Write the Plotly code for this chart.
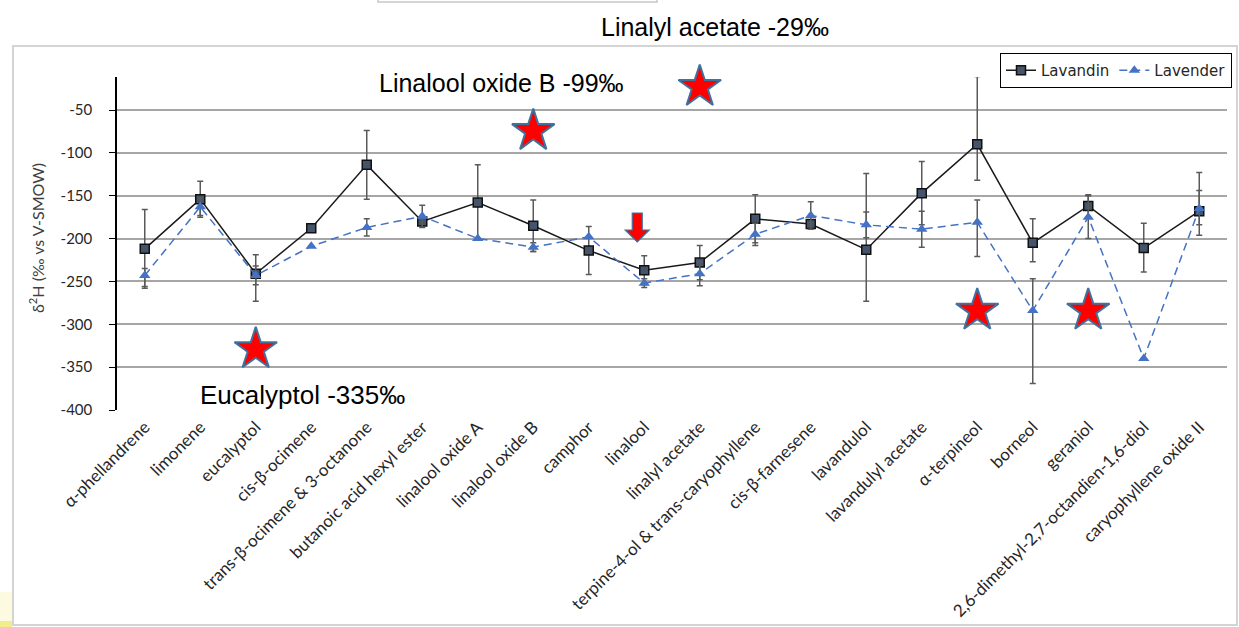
import plotly.graph_objects as go

# Compounds on the x axis
compounds = [
    "α-phellandrene", "limonene", "eucalyptol", "cis-β-ocimene",
    "trans-β-ocimene & 3-octanone", "butanoic acid hexyl ester",
    "linalool oxide A", "linalool oxide B", "camphor", "linalool",
    "linalyl acetate", "terpine-4-ol & trans-caryophyllene",
    "cis-β-farnesene", "lavandulol", "lavandulyl acetate", "α-terpineol",
    "borneol", "geraniol", "2,6-dimethyl-2,7-octandien-1,6-diol",
    "caryophyllene oxide II",
]

# δ2H values (‰ vs V-SMOW) with upper / lower error bar lengths
lavandin = [-212, -154, -241, -188, -114, -180, -158, -185, -214, -237,
            -228, -177, -183, -213, -147, -90, -205, -162, -211, -168]
lavandin_err_up = [46, 21, 22, None, 40, 5, 44, 30, 28, 17,
                   20, 28, 5, 89, 37, 79, 28, 13, 29, 24]
lavandin_err_down = [46, 21, 32, None, 40, 5, 44, 30, 28, 17,
                     20, 28, 5, 60, 37, 42, 22, 13, 28, 28]

lavender = [-243, -163, -243, -209, -187, -174, -200, -210, -198, -252,
            -241, -195, -173, -184, -189, -181, -284, -175, -340, -165]
lavender_err_up = [8, 10, 11, None, 10, 13, None, 5, None, 5,
                   14, 13, 16, 15, 21, 26, 37, 25, None, 42]
lavender_err_down = [13, 10, 11, None, 10, 13, None, 5, None, 5,
                     14, 13, 16, 15, 21, 40, 85, 25, None, 19]

# Highlighted compounds (star markers) and their call-out texts
star_compounds = ["eucalyptol", "linalool oxide B", "linalyl acetate", "α-terpineol", "geraniol"]
star_values = [-329, -74.5, -23, -284, -284]
callout_texts = ["Eucalyptol -335‰", "Linalool oxide B -99‰", "Linalyl acetate -29‰"]

# Arrow marking linalool
arrow_compound = "linalool"
arrow_tip_value = -204

y_ticks = [-50, -100, -150, -200, -250, -300, -350, -400]

W, H = 1239, 627
ML, MR, MT, MB = 117, 12, 77, 217
PW, PH = W - ML - MR, H - MT - MB


def px(xp):
    return (xp - ML) / PW


def py(yp):
    return (H - MB - yp) / PH


fig = go.Figure()

fig.add_trace(go.Scatter(
    x=compounds, y=lavandin, name="Lavandin", mode="lines+markers",
    line=dict(color="#1a1a1a", width=1.5),
    marker=dict(symbol="square", size=9, color="#44546a",
                line=dict(color="#111111", width=1.5)),
    error_y=dict(type="data", symmetric=False, array=lavandin_err_up,
                 arrayminus=lavandin_err_down, color="#5a5a5a",
                 thickness=1.5, width=3),
))

fig.add_trace(go.Scatter(
    x=compounds, y=lavender, name="Lavender", mode="lines+markers",
    line=dict(color="#4472c4", width=1.5, dash="8px,5px"),
    marker=dict(symbol="triangle-up", size=10, color="#4472c4"),
    error_y=dict(type="data", symmetric=False, array=lavender_err_up,
                 arrayminus=lavender_err_down, color="#5a5a5a",
                 thickness=1.5, width=3),
))

fig.add_trace(go.Scatter(
    x=star_compounds, y=star_values, mode="markers", showlegend=False,
    hoverinfo="skip", cliponaxis=False,
    marker=dict(symbol="star", size=32, color="#ff0000",
                line=dict(color="#41719c", width=2)),
))

# Red block arrow drawn in pixel units around its anchor
fig.add_shape(
    type="path", xref="x", yref="y", xsizemode="pixel", ysizemode="pixel",
    xanchor=arrow_compound, yanchor=arrow_tip_value,
    path="M -12,29 L -2,29 L -2,12 L 5,12 L -7,0 L -19,12 L -12,12 Z",
    fillcolor="#ff0000", line=dict(color="#41719c", width=1.2), layer="above",
)

callout_pos = [(302, 395), (501, 83), (715, 27)]
callout_sizes = [26, 25, 25]
for txt, (cx, cy), fs in zip(callout_texts, callout_pos, callout_sizes):
    fig.add_annotation(
        text=txt, xref="paper", yref="paper", x=px(cx), y=py(cy),
        xanchor="center", yanchor="middle", showarrow=False,
        font=dict(family="Liberation Sans, Arial", size=fs, color="#000000"),
    )

# y axis title
fig.add_annotation(
    text="δ<sup>2</sup>H (‰ vs V-SMOW)", xref="paper", yref="paper",
    x=px(36), y=py(238), textangle=-90, showarrow=False,
    xanchor="center", yanchor="middle",
    font=dict(family="Lato", size=16, color="#404040"),
)

# chart frame and small page details
fig.add_shape(type="rect", xref="paper", yref="paper",
              x0=px(13), x1=px(1237), y0=py(625), y1=py(46),
              line=dict(color="#d4d4d4", width=2), layer="below")
fig.add_shape(type="rect", xref="paper", yref="paper",
              x0=px(378), x1=px(657), y0=py(2), y1=py(-5),
              line=dict(color="#c8c8c8", width=1.5), layer="below")
fig.add_shape(type="rect", xref="paper", yref="paper",
              x0=px(0), x1=px(12), y0=py(627), y1=py(592),
              line=dict(width=0), fillcolor="#fcfbe2", layer="below")
fig.add_shape(type="rect", xref="paper", yref="paper",
              x0=px(0), x1=px(12), y0=py(627), y1=py(621),
              line=dict(width=0), fillcolor="#f2ec8c", layer="below")

fig.update_layout(
    width=W, height=H,
    margin=dict(l=ML, r=MR, t=MT, b=MB, autoexpand=False),
    paper_bgcolor="white", plot_bgcolor="white",
    font=dict(family="Lato", size=14, color="#262626"),
    legend=dict(
        orientation="h", xref="container", yref="container",
        x=1232 / W, xanchor="right", y=1 - 53 / H, yanchor="top",
        bordercolor="#000000", borderwidth=1, bgcolor="white",
        font=dict(family="DejaVu Sans", size=15, color="#262626"),
        itemwidth=30, tracegroupgap=0,
    ),
    xaxis=dict(
        type="category", range=[-0.5, len(compounds) - 0.5],
        tickangle=-45, showgrid=False, showline=False, zeroline=False,
        ticks="", tickfont=dict(family="Lato", size=17, color="#262626"),
        ticklabelstandoff=3, automargin=False,
    ),
    yaxis=dict(
        range=[-400, -11.5], tickvals=y_ticks,
        ticktext=[str(v) for v in y_ticks],
        showgrid=True, gridcolor="#a6a6a6", gridwidth=1.6,
        zeroline=False, showline=True, linecolor="#000000", linewidth=1.5,
        ticks="outside", ticklen=6, tickcolor="#000000", tickwidth=1.2,
        tickfont=dict(family="Lato", size=15, color="#262626"),
        ticklabelstandoff=14, automargin=False,
    ),
)

fig.write_html("out.html")
